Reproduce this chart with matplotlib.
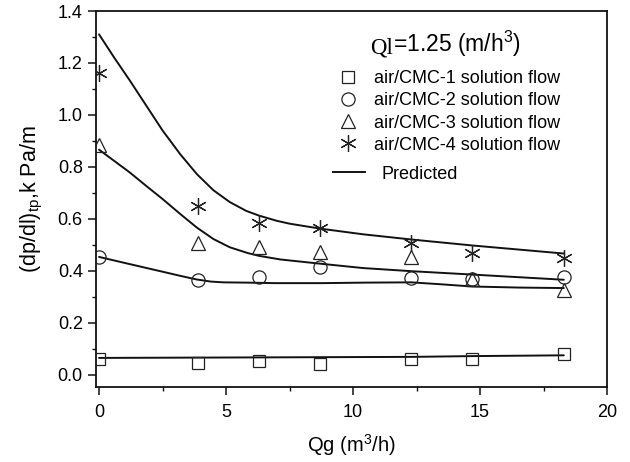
import matplotlib
matplotlib.use("Agg")
import matplotlib.pyplot as plt
from matplotlib.ticker import MultipleLocator
from matplotlib.lines import Line2D

plt.rcParams['font.family'] = ['Liberation Sans', 'DejaVu Sans']
plt.rcParams['mathtext.fontset'] = 'custom'
plt.rcParams['mathtext.rm'] = 'Liberation Sans'
plt.rcParams['mathtext.it'] = 'Liberation Sans:italic'

# Measured data
qg = [0.0, 3.9, 6.3, 8.7, 12.3, 14.7, 18.3]
cmc1 = [0.060, 0.043, 0.053, 0.039, 0.058, 0.058, 0.081]
cmc2 = [0.453, 0.363, 0.374, 0.415, 0.372, 0.369, 0.376]
cmc3 = [0.885, 0.505, 0.492, 0.471, 0.453, 0.369, 0.327]
cmc4 = [1.160, 0.650, 0.585, 0.566, 0.508, 0.469, 0.450]

labels = ["air/CMC-1 solution flow", "air/CMC-2 solution flow",
          "air/CMC-3 solution flow", "air/CMC-4 solution flow"]

# Predicted curves
p1_x = [0.0, 6.3, 12.3, 14.7, 18.3]
p1_y = [0.064, 0.066, 0.068, 0.071, 0.074]
p2_x = [0.0, 1.0, 1.75, 2.5, 3.2, 3.85, 4.4, 4.9, 5.8, 6.9, 8.8, 10.5, 12.3, 13.4, 14.7, 16.5, 18.3]
p2_y = [0.453, 0.430, 0.413, 0.396, 0.380, 0.366, 0.358, 0.355, 0.354, 0.352, 0.352, 0.354, 0.355, 0.348, 0.339, 0.335, 0.333]
p3_x = [0.0, 1.2, 1.85, 2.5, 3.2, 3.85, 4.5, 5.15, 5.85, 6.3, 7.15, 8.7, 10.4, 12.3, 14.7, 18.3]
p3_y = [0.866, 0.779, 0.727, 0.676, 0.618, 0.566, 0.522, 0.490, 0.468, 0.457, 0.443, 0.427, 0.410, 0.398, 0.385, 0.365]
p4_x = [0.0, 0.6, 1.2, 1.85, 2.5, 3.2, 3.85, 4.5, 5.15, 5.8, 6.3, 7.0, 7.5, 8.7, 10.4, 12.3, 14.7, 18.3]
p4_y = [1.310, 1.220, 1.134, 1.037, 0.940, 0.848, 0.772, 0.710, 0.664, 0.630, 0.612, 0.592, 0.581, 0.562, 0.540, 0.520, 0.497, 0.466]

fig = plt.figure(figsize=(6.30, 4.62), dpi=100)
ax = fig.add_axes([96/630, 1-387/462, (607-96)/630, (387-11)/462])

lc = '#111111'
for px, py in [(p1_x, p1_y), (p2_x, p2_y), (p3_x, p3_y), (p4_x, p4_y)]:
    ax.plot(px, py, color=lc, lw=1.4, solid_capstyle='round', solid_joinstyle='round', zorder=2)

mk = dict(ls='none', mfc='none', mec='#222222', mew=0.9, zorder=3)
h1, = ax.plot(qg, cmc1, marker='s', ms=9, **mk)
h2, = ax.plot(qg, cmc2, marker='o', ms=9.5, **mk)
h3, = ax.plot(qg, cmc3, marker='^', ms=10, **mk)
h4, = ax.plot(qg, cmc4, marker=(6, 2, 0), ms=12, **mk)

ax.set_xlim(-0.12, 20)
ax.set_ylim(-0.048, 1.4)
ax.xaxis.set_major_locator(MultipleLocator(5))
ax.xaxis.set_minor_locator(MultipleLocator(2.5))
ax.yaxis.set_major_locator(MultipleLocator(0.2))
ax.yaxis.set_minor_locator(MultipleLocator(0.1))
ax.yaxis.set_major_formatter(plt.FormatStrFormatter('%.1f'))
ax.tick_params(which='major', direction='out', length=5.5, width=1.1, labelsize=13, pad=4, color='#111111')
ax.tick_params(axis='x', which='major', pad=7)
ax.tick_params(which='minor', direction='out', length=3, width=1.0, color='#111111')
for s in ax.spines.values():
    s.set_linewidth(1.3)
    s.set_color('#111111')

ax.set_xlabel("Qg (m$^3$/h)", fontsize=14.5, labelpad=8)
ax.set_ylabel("(dp/dl)$_{\\mathrm{tp}}$,k Pa/m", fontsize=15.5, labelpad=9)

leg1 = ax.legend([h1, h2, h3, h4], labels, loc='upper left',
                 bbox_to_anchor=(0.465, 0.842), frameon=False, fontsize=13,
                 handlelength=1.6, handletextpad=0.64, labelspacing=0.28,
                 borderpad=0, borderaxespad=0)
ax.add_artist(leg1)
pl = Line2D([], [], color=lc, lw=1.4)
ax.legend([pl], ["Predicted"], loc='upper left', bbox_to_anchor=(0.4638, 0.589),
          frameon=False, fontsize=13, handlelength=1.78, handletextpad=0.9,
          borderpad=0, borderaxespad=0)

t1 = ax.text(0.536, 0.886, "Ql", transform=ax.transAxes, fontsize=16.5,
             family='Liberation Serif', va='baseline', ha='left')
ax.annotate("=1.25 (m/h$^3$)", xy=(1, 0), xycoords=t1, va='bottom', ha='left',
            fontsize=16.5, xytext=(0, 0), textcoords='offset points')

fig.savefig("out.png", dpi=100)
